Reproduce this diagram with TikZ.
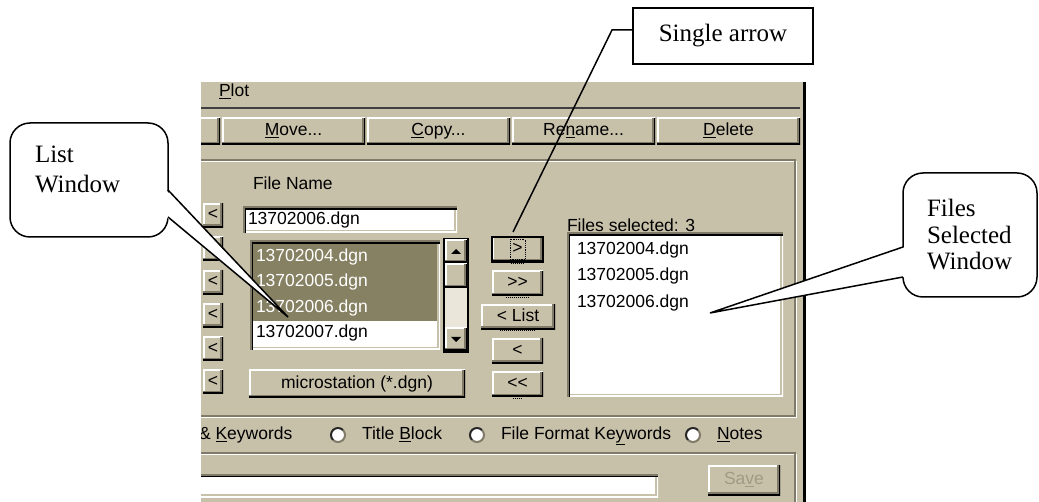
\documentclass[tikz,border=0pt]{standalone}
\usepackage{fontspec}
\setmainfont{Liberation Serif}
\newfontfamily\dlgfamily{Liberation Sans}
\usetikzlibrary{positioning}
\usetikzlibrary{calc}

\definecolor{face}{RGB}{200,193,170}
\definecolor{darkface}{RGB}{128,123,104}
\definecolor{selolive}{RGB}{134,129,98}
\definecolor{track}{RGB}{234,230,218}
\definecolor{greyed}{RGB}{160,154,134}

\newcommand{\dlg}{\dlgfamily\fontsize{17.5}{20}\selectfont}
\newcommand{\ul}[1]{\underline{#1}}

\tikzset{
  raised/.style={rectangle, inner sep=0pt, outer sep=0pt, fill=face, font=\dlg,
    text height=12.5pt, text depth=3.5pt,
    path picture={
      \draw [white, line width=3pt] (path picture bounding box.south west) |- (path picture bounding box.north east);
      \draw [darkface, line width=6pt] (path picture bounding box.south west) -| (path picture bounding box.north east);
      \draw [black, line width=3pt] (path picture bounding box.south west) -| (path picture bounding box.north east);
    }},
  sunken/.style={rectangle, inner sep=0pt, outer sep=0pt, fill=white,
    path picture={
      \draw [face, line width=6pt] (path picture bounding box.south west) -| (path picture bounding box.north east);
      \draw [white, line width=3pt] (path picture bounding box.south west) -| (path picture bounding box.north east);
      \draw [black, line width=6pt] (path picture bounding box.south west) |- (path picture bounding box.north east);
      \draw [darkface, line width=3pt] (path picture bounding box.south west) |- (path picture bounding box.north east);
    }},
  txt/.style={font=\dlg, inner sep=0pt, outer sep=0pt, anchor=west,
    text height=12.5pt, text depth=3.5pt},
  radio/.style={circle, inner sep=0pt, outer sep=0pt, minimum size=14, fill=white},
  callout/.style={draw=black, line width=1.5pt, fill=white, outer sep=0pt,
    inner sep=0pt, font=\fontsize{25}{30}\selectfont, align=left}
}

\begin{document}
\begin{tikzpicture}[x=1pt, y=-1pt]

\pgfmathsetmacro{\BW}{143}
\pgfmathsetmacro{\BH}{27}
\pgfmathsetmacro{\BG}{2}
\pgfmathsetmacro{\RS}{33.75}
\pgfmathsetmacro{\LS}{33.3}

\useasboundingbox (0,0) rectangle (1039,502);
\fill [white] (0,0) rectangle (1039,502);

\begin{scope}
\clip (201,82) rectangle (804,502);
\fill [face] (201,82) rectangle (804,502);

\node [txt] (mPlot) at (219,92) {\ul{P}lot};
\draw [black!75, line width=1.5pt] (201,108) -- (800,108);

\node [raised, minimum width=\BW, minimum height=\BH] (bMove) at (293.5,131.5) {\ul{M}ove...};
\node [raised, minimum width=\BW, minimum height=\BH] (bCopy) at
($(bMove.east) + (\BG+\BW/2, 0)$) {\ul{C}opy...};
\node [raised, minimum width=\BW, minimum height=\BH] (bRename) at
($(bCopy.east) + (\BG+\BW/2, 0)$) {Re\ul{n}ame...};
\node [raised, minimum width=\BW, minimum height=\BH] (bDelete) at
($(bRename.east) + (\BG+\BW/2, 0)$) {\ul{D}elete};
\node [raised, minimum width=\BW, minimum height=\BH] (bPrev) at
($(bMove.west) + (-\BG-\BW/2, 0)$) {};

\draw [white, line width=1.5pt] (201,161.5) -| (796.5,417.5) -- (201,417.5);
\draw [darkface, line width=1.5pt] (201,160) -| (795,416) -- (201,416);
\draw [white, line width=1.5pt] (201,454.5) -| (796.5,502);
\draw [darkface, line width=1.5pt] (201,453) -| (795,502);

\node [txt] (lblName) at (253,185) {File Name};
\node [txt] (lblSel) at (567,227) {Files selected: 3};

\node [sunken, minimum width=214, minimum height=26] (fName) at (350,220) {};
\node [txt] (fNameTxt) at ($(fName.west) + (5, 0)$) {13702006.dgn};

\node [sunken, minimum width=190, minimum height=109] (lstFiles) at (345,295.5) {};
\fill [selolive] (253,244) rectangle (437,321);
\foreach \f/\y/\c in {13702004/257/white, 13702005/282/white, 13702006/308/white, 13702007/333/black}
  \node [txt, text=\c] (it\f) at (256,\y) {\f.dgn};

\draw [black, line width=1.5pt] (444,239) rectangle (468,352);
\fill [track] (445,288) rectangle (467,328);
\node [raised, minimum width=22, minimum height=23] (sbUp) at (456,251.5) {};
\node [raised, minimum width=22, minimum height=24] (sbThumb) at (456,276) {};
\node [raised, minimum width=22, minimum height=23] (sbDown) at (456,339.5) {};
\fill (sbUp.center) ++(-5,2.5) -- ++(10,0) -- ++(-5,-5) -- cycle;
\fill (sbDown.center) ++(-5,-2.5) -- ++(10,0) -- ++(-5,5) -- cycle;

\node [raised, minimum width=51, minimum height=25, draw=black, line width=1.5pt] (bOne) at (517.5,249.5) {>};
\node [raised, minimum width=51, minimum height=25] (bAll) at ($(bOne) + (0, \RS)$) {>\kern0pt>};
\node [raised, minimum width=74, minimum height=25] (bList) at ($(bAll) + (0.5, \RS)$) {< List};
\node [raised, minimum width=51, minimum height=25] (bBack) at ($(bList) + (-0.5, \RS)$) {<};
\node [raised, minimum width=51, minimum height=25] (bNone) at ($(bBack) + (0, \RS)$) {<\kern0pt<};
\draw [densely dotted, line width=0.8pt] ($(bOne.center) + (-7.5, -10)$) rectangle ($(bOne.center) + (7.5, 10)$);
\draw [densely dotted, line width=1pt] ($(bOne.south) + (-7, 2)$) -- ($(bOne.south) + (7, 2)$);
\draw [densely dotted, line width=1pt] ($(bAll.south) + (-12, 1.5)$) -- ($(bAll.south) + (12, 1.5)$);
\draw [densely dotted, line width=1pt] ($(bList.south) + (-18, 1.5)$) -- ($(bList.south) + (18, 1.5)$);
\draw [densely dotted, line width=1pt] ($(bNone.south) + (-5, 1.5)$) -- ($(bNone.south) + (5, 1.5)$);

\node [sunken, minimum width=216, minimum height=164] (lstSel) at (675,315) {};
\foreach \f [count=\i] in {13702004,13702005,13702006}
  \node [txt] (sel\i) at ($(lstSel.north west) + (10, {17+26.5*(\i-1)})$) {\f.dgn};

\foreach \i in {0,...,5}
  \node [raised, minimum width=20, minimum height=24] (bLeft\i) at (213, {215.5+\LS*\i}) {<};

\node [raised, minimum width=216, minimum height=28] (bFilter) at (357,384) {microstation (*.dgn)};

\node [txt] (lblKey) at (199,435) {\& \ul{K}eywords};
\node [radio] (rdTitle) at (338,435) {};
\node [txt] (lblTitle) at ($(rdTitle.east) + (17, 0)$) {Title \ul{B}lock};
\node [radio] (rdFormat) at (477,435) {};
\node [txt] (lblFormat) at ($(rdFormat.east) + (17, 0)$) {File Format Ke\ul{y}words};
\node [radio] (rdNotes) at (693,435) {};
\node [txt] (lblNotes) at ($(rdNotes.east) + (17, 0)$) {\ul{N}otes};
\foreach \r in {rdTitle, rdFormat, rdNotes} {
  \draw [darkface, line width=2pt] (\r.225) arc [start angle=225, end angle=405, radius=7pt];
  \draw [black!85, line width=2pt] (\r.45) arc [start angle=45, end angle=225, radius=7pt];
}

\node [sunken, minimum width=468, minimum height=23] (fNote) at (424,485.5) {};
\node [raised, minimum width=72, minimum height=30, text=greyed] (bSave) at (744,480) {Sa\ul{v}e};
\end{scope}

\draw [black, line width=2.5pt] (804.5,82) -- (804.5,502);

\node [callout, rounded corners=20pt, minimum width=158, minimum height=114, text width=108] (cList) at
(89,180) {List\\Window\\[-9pt]\mbox{}};
\coordinate (cListTip) at (288,317);
\fill [white] ($(cList.east) + (-2, 10)$) -- (cListTip) -- ($(cList.east) + (-2, 37)$) -- cycle;
\draw [-, line width=1.5pt] ($(cList.east) + (0, 10)$) -- (cListTip) -- ($(cList.east) + (0, 37)$);

\node [callout, rounded corners=20pt, minimum width=134, minimum height=124, text width=86,
font=\fontsize{25}{26.5}\selectfont] (cSel) at (970,235) {Files\\Selected\\Window};
\coordinate (cSelTip) at (710,313);
\fill [white] ($(cSel.west) + (2, 12)$) -- (cSelTip) -- ($(cSel.west) + (2, 42)$) -- cycle;
\draw [-, line width=1.5pt] ($(cSel.west) + (0, 12)$) -- (cSelTip) -- ($(cSel.west) + (0, 42)$);

\node [callout, align=center, minimum width=180, minimum height=56] (cOne) at (723,36) {Single arrow};
\coordinate (cOneBend) at (612,30);
\coordinate (cOneTip) at (513,232);
\draw [-, line width=1.5pt] ($(cOne.west) + (0, -6)$) -- (cOneBend) -- (cOneTip);

\end{tikzpicture}
\end{document}
